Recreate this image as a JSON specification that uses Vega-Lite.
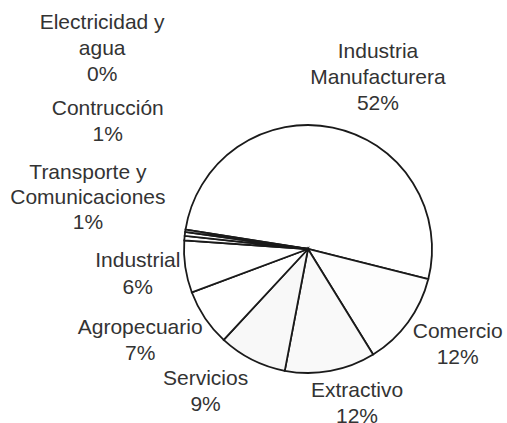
{
  "$schema": "https://vega.github.io/schema/vega-lite/v6.json",
  "width": 398,
  "height": 348,
  "autosize": {"type": "none"},
  "padding": {"left": 109, "top": 75, "right": 0, "bottom": 0},
  "background": "white",
  "config": {"view": {"stroke": null}},
  "title": {
    "text": "(por sector económico)",
    "font": "Liberation Sans",
    "fontStyle": "italic",
    "fontWeight": "normal",
    "fontSize": 19,
    "color": "#444444",
    "frame": "group",
    "anchor": "middle",
    "offset": 69,
    "baseline": "alphabetic",
    "dx": -10
  },
  "data": {
    "values": [
      {"idx": 1, "sector": "Industria Manufacturera", "value": 51.4, "label": "Industria\nManufacturera\n52%"},
      {"idx": 2, "sector": "Comercio", "value": 12.3, "label": "Comercio\n12%"},
      {"idx": 3, "sector": "Extractivo", "value": 11.8, "label": "Extractivo\n12%"},
      {"idx": 4, "sector": "Servicios", "value": 8.9, "label": "Servicios\n9%"},
      {"idx": 5, "sector": "Agropecuario", "value": 7.4, "label": "Agropecuario\n7%"},
      {"idx": 6, "sector": "Industrial", "value": 6.8, "label": "Industrial\n6%"},
      {"idx": 7, "sector": "Transporte y Comunicaciones", "value": 0.6, "label": "Transporte y\nComunicaciones\n1%"},
      {"idx": 8, "sector": "Contrucción", "value": 0.5, "label": "Contrucción\n1%"},
      {"idx": 9, "sector": "Electricidad y agua", "value": 0.3, "label": "Electricidad y\nagua\n0%"}
    ]
  },
  "encoding": {
    "theta": {"field": "value", "type": "quantitative", "stack": true, "scale": {"range": [4.8695, 11.1527]}},
    "order": {"field": "idx", "type": "quantitative"}
  },
  "layer": [
    {
      "mark": {"type": "arc", "outerRadius": 124, "stroke": "#1a1a1a", "strokeWidth": 1.8},
      "encoding": {
        "color": {
          "field": "sector",
          "type": "nominal",
          "scale": {
            "domain": ["Industria Manufacturera", "Comercio", "Extractivo", "Servicios", "Agropecuario", "Industrial", "Transporte y Comunicaciones", "Contrucción", "Electricidad y agua"],
            "range": ["#ffffff", "#fdfdfd", "#f9f9f9", "#f8f8f8", "#ffffff", "#ffffff", "#ffffff", "#ffffff", "#ffffff"]
          },
          "legend": null
        }
      }
    },
    {
      "mark": {"type": "text", "radius": 185, "dx": 33, "dy": -16, "align": "center", "baseline": "middle", "lineBreak": "\n", "lineHeight": 26, "font": "Liberation Sans", "fontSize": 21, "fill": "#333333"},
      "encoding": {"text": {"condition": {"test": "datum.idx === 1", "field": "label"}, "value": ""}}
    },
    {
      "mark": {"type": "text", "radius": 178, "dx": 6, "dy": -22, "align": "center", "baseline": "middle", "lineBreak": "\n", "lineHeight": 26, "font": "Liberation Sans", "fontSize": 21, "fill": "#333333"},
      "encoding": {"text": {"condition": {"test": "datum.idx === 2", "field": "label"}, "value": ""}}
    },
    {
      "mark": {"type": "text", "radius": 160, "dx": 20, "dy": -15, "align": "center", "baseline": "middle", "lineBreak": "\n", "lineHeight": 26, "font": "Liberation Sans", "fontSize": 21, "fill": "#333333"},
      "encoding": {"text": {"condition": {"test": "datum.idx === 3", "field": "label"}, "value": ""}}
    },
    {
      "mark": {"type": "text", "radius": 176, "dx": -23, "dy": -27, "align": "center", "baseline": "middle", "lineBreak": "\n", "lineHeight": 26, "font": "Liberation Sans", "fontSize": 21, "fill": "#333333"},
      "encoding": {"text": {"condition": {"test": "datum.idx === 4", "field": "label"}, "value": ""}}
    },
    {
      "mark": {"type": "text", "radius": 190, "dx": -10, "dy": -27, "align": "center", "baseline": "middle", "lineBreak": "\n", "lineHeight": 26, "font": "Liberation Sans", "fontSize": 21, "fill": "#333333"},
      "encoding": {"text": {"condition": {"test": "datum.idx === 5", "field": "label"}, "value": ""}}
    },
    {
      "mark": {"type": "text", "radius": 172, "dx": 0, "dy": -13, "align": "center", "baseline": "middle", "lineBreak": "\n", "lineHeight": 27, "font": "Liberation Sans", "fontSize": 21, "fill": "#333333"},
      "encoding": {"text": {"condition": {"test": "datum.idx === 6", "field": "label"}, "value": ""}}
    },
    {
      "mark": {"type": "text", "radius": 226, "dx": 5, "dy": -56, "align": "center", "baseline": "middle", "lineBreak": "\n", "lineHeight": 25, "font": "Liberation Sans", "fontSize": 21, "fill": "#333333"},
      "encoding": {"text": {"condition": {"test": "datum.idx === 7", "field": "label"}, "value": ""}}
    },
    {
      "mark": {"type": "text", "radius": 237, "dx": 35, "dy": -111, "align": "center", "baseline": "middle", "lineBreak": "\n", "lineHeight": 26, "font": "Liberation Sans", "fontSize": 21, "fill": "#333333"},
      "encoding": {"text": {"condition": {"test": "datum.idx === 8", "field": "label"}, "value": ""}}
    },
    {
      "mark": {"type": "text", "radius": 288, "dx": 79, "dy": -184, "align": "center", "baseline": "middle", "lineBreak": "\n", "lineHeight": 26, "font": "Liberation Sans", "fontSize": 21, "fill": "#333333"},
      "encoding": {"text": {"condition": {"test": "datum.idx === 9", "field": "label"}, "value": ""}}
    }
  ]
}
